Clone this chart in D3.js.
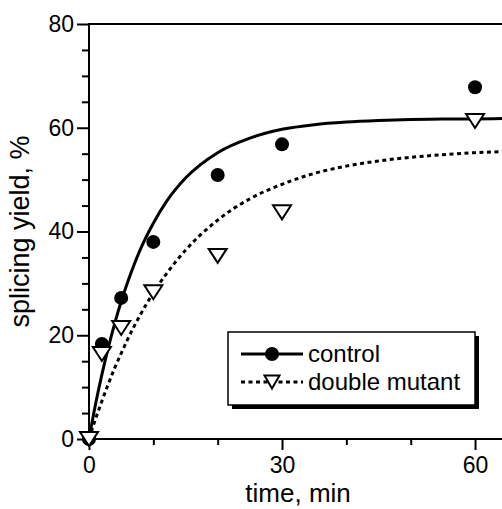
<!DOCTYPE html>
<html>
<head>
<meta charset="utf-8">
<script src="https://cdn.jsdelivr.net/npm/d3@7"></script>
<style>
  html, body { margin: 0; padding: 0; background: #ffffff; }
  svg { display: block; }
  text { font-family: "Liberation Sans", Arial, sans-serif; fill: #000; }
</style>
</head>
<body>
<svg id="chart" width="502" height="509"></svg>
<script>
// ---- data ----
const times = [0, 2, 5, 10, 20, 30, 60];
const controlValues = [0, 18.3, 27.2, 38.0, 50.9, 56.8, 67.8];
const mutantValues = [0, 16.4, 21.4, 28.3, 35.3, 43.7, 61.3];

// fitted curves
const curveTimes = [0, 1, 2, 3, 4, 5, 6, 8, 10, 12, 15, 20, 25, 30, 35, 40, 45, 50, 55, 60, 65];
const controlCurve = [0, 6.6, 12.4, 17.6, 22.3, 26.5, 30.2, 36.6, 41.6, 45.7, 50.3, 55.2, 58.0, 59.7, 60.6, 61.1, 61.4, 61.6, 61.7, 61.7, 61.8];
const mutantCurve = [0, 3.8, 7.3, 10.6, 13.7, 16.5, 19.2, 24.0, 28.2, 31.8, 36.4, 42.2, 46.3, 49.1, 51.2, 52.6, 53.6, 54.3, 54.8, 55.2, 55.4];

const xMajorTicks = [0, 30, 60];
const xMinorTicks = [10, 20, 40, 50];
const yMajorTicks = [0, 20, 40, 60, 80];
const yMinorTicks = [5, 10, 15, 25, 30, 35, 45, 50, 55, 65, 70, 75];

const seriesNames = ["control", "double mutant"];
const xTitle = "time, min";
const yTitle = "splicing yield, %";

// ---- layout ----
const svg = d3.select("#chart");
const x = d3.scaleLinear().domain([0, 65]).range([89, 507.2]);
const y = d3.scaleLinear().domain([0, 80]).range([439, 24]);

const tickFont = "23px";

// top frame line
svg.append("line")
  .attr("x1", x(0)).attr("x2", 502)
  .attr("y1", y(80)).attr("y2", y(80))
  .attr("stroke", "#000").attr("stroke-width", 2);

// x axis
const gx = svg.append("g").attr("transform", `translate(0,${y(0)})`);
gx.call(d3.axisBottom(x).tickValues(xMinorTicks).tickSize(6).tickSizeOuter(0).tickFormat(""));
gx.call(g => g.select(".domain").remove());
const gx2 = svg.append("g").attr("transform", `translate(0,${y(0)})`);
gx2.call(d3.axisBottom(x).tickValues(xMajorTicks).tickSize(11).tickSizeOuter(0).tickPadding(7).tickFormat(d3.format("d")));
gx2.select(".domain").remove();
svg.append("line")
  .attr("x1", x(0)).attr("x2", 502)
  .attr("y1", y(0)).attr("y2", y(0))
  .attr("stroke", "#000").attr("stroke-width", 2);

// y axis
const gy = svg.append("g").attr("transform", `translate(${x(0)},0)`);
gy.call(d3.axisLeft(y).tickValues(yMinorTicks).tickSize(7).tickSizeOuter(0).tickFormat(""));
gy.select(".domain").remove();
const gy2 = svg.append("g").attr("transform", `translate(${x(0)},0)`);
gy2.call(d3.axisLeft(y).tickValues(yMajorTicks).tickSize(12).tickSizeOuter(0).tickPadding(3).tickFormat(d3.format("d")));
gy2.select(".domain").remove();
svg.append("line")
  .attr("x1", x(0)).attr("x2", x(0))
  .attr("y1", y(80) - 1).attr("y2", y(0) + 1)
  .attr("stroke", "#000").attr("stroke-width", 2);

svg.selectAll(".tick line").attr("stroke", "#000").attr("stroke-width", 2);
svg.selectAll(".tick text")
  .style("font-family", '"Liberation Sans", Arial, sans-serif')
  .style("font-size", tickFont).attr("fill", "#000");

// axis titles
svg.append("text")
  .attr("x", x(32.5)).attr("y", 502)
  .attr("text-anchor", "middle")
  .style("font-size", "26px")
  .text(xTitle);
svg.append("text")
  .attr("transform", `translate(29,${y(40) + 0})rotate(-90)`)
  .attr("text-anchor", "middle")
  .style("font-size", "27px")
  .text(yTitle);

// curves
const line = d3.line()
  .x((d, i) => x(curveTimes[i]))
  .y(d => y(d))
  .curve(d3.curveMonotoneX);

const clip = svg.append("clipPath").attr("id", "plotclip")
  .append("rect").attr("x", x(0)).attr("y", y(80)).attr("width", 502 - x(0)).attr("height", y(0) - y(80));

svg.append("path")
  .datum(mutantCurve)
  .attr("clip-path", "url(#plotclip)")
  .attr("d", line)
  .attr("fill", "none").attr("stroke", "#000")
  .attr("stroke-width", 3)
  .attr("stroke-dasharray", "4,3.5");

svg.append("path")
  .datum(controlCurve)
  .attr("clip-path", "url(#plotclip)")
  .attr("d", line)
  .attr("fill", "none").attr("stroke", "#000")
  .attr("stroke-width", 3);

// markers
function triPath(cx, cy, w, h) {
  return `M${cx - w / 2},${cy - h / 2}L${cx + w / 2},${cy - h / 2}L${cx},${cy + h / 2}Z`;
}

svg.append("g").selectAll("circle")
  .data(controlValues)
  .join("circle")
  .attr("cx", (d, i) => x(times[i]))
  .attr("cy", d => y(d))
  .attr("r", 7)
  .attr("fill", "#000");

svg.append("g").selectAll("path")
  .data(mutantValues)
  .join("path")
  .attr("d", (d, i) => triPath(x(times[i]), y(d), 18, 14))
  .attr("fill", "#fff")
  .attr("stroke", "#000")
  .attr("stroke-width", 2)
  .attr("stroke-linejoin", "miter");

// legend
const lg = svg.append("g");
const bx = 228, by = 332, bw = 247, bh = 73;
lg.append("rect")
  .attr("x", bx + 4).attr("y", by + 4).attr("width", bw).attr("height", bh)
  .attr("fill", "#000");
lg.append("rect")
  .attr("x", bx).attr("y", by).attr("width", bw).attr("height", bh)
  .attr("fill", "#fff").attr("stroke", "#000").attr("stroke-width", 1.5);

const legY = [354, 382];
lg.append("line").attr("x1", 241).attr("x2", 303).attr("y1", legY[0]).attr("y2", legY[0])
  .attr("stroke", "#000").attr("stroke-width", 3);
lg.append("circle").attr("cx", 272).attr("cy", legY[0]).attr("r", 7).attr("fill", "#000");
lg.append("line").attr("x1", 241).attr("x2", 303).attr("y1", legY[1]).attr("y2", legY[1])
  .attr("stroke", "#000").attr("stroke-width", 3).attr("stroke-dasharray", "4,3.5");
lg.append("path").attr("d", triPath(272, legY[1], 15, 13))
  .attr("fill", "#fff").attr("stroke", "#000").attr("stroke-width", 2);

lg.selectAll("text.leg")
  .data(seriesNames)
  .join("text")
  .attr("class", "leg")
  .attr("x", 308)
  .attr("y", (d, i) => legY[i] + 8)
  .style("font-size", "24px")
  .text(d => d);
</script>
</body>
</html>
